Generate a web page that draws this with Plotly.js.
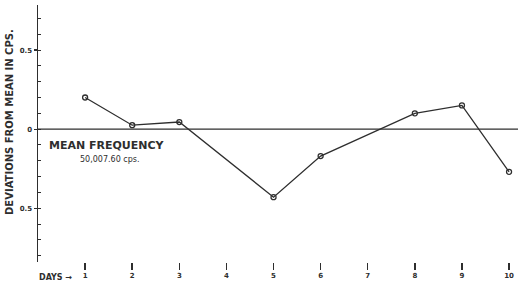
<!DOCTYPE html>
<html>
<head>
<meta charset="utf-8">
<script src="https://cdn.plot.ly/plotly-3.0.1.min.js"></script>
<style>html,body{margin:0;padding:0;background:#fff}#chart{width:518px;height:286px}</style>
</head>
<body>
<div id="chart"></div>
<script>
// Days with measurements (days 4 and 7 have no plotted point)
var days = [1, 2, 3, 5, 6, 8, 9, 10];
var deviations = [0.20, 0.025, 0.045, -0.43, -0.17, 0.10, 0.15, -0.27];
var dayTicks = [1, 2, 3, 4, 5, 6, 7, 8, 9, 10];
var dayLabels = ["1", "2", "3", "4", "5", "6", "7", "8", "9", "10"];
var yTickVals = [0.5, 0, -0.5];
var yTickText = ["0.5", "0", "0.5"];
var meanValue = 0;

var ink = "#2e2e2e";
var font = "DejaVu Sans";

var trace = {
  x: days, y: deviations, type: "scatter", mode: "lines+markers",
  line: {color: ink, width: 1.3},
  marker: {symbol: "circle-open", size: 5, color: ink, line: {width: 1.3, color: ink}},
  hoverinfo: "skip", showlegend: false
};

var layout = {
  width: 518, height: 286,
  margin: {l: 38, r: 0, t: 5, b: 24},
  paper_bgcolor: "#fff", plot_bgcolor: "#fff",
  xaxis: {
    range: [0, 10.19], showgrid: false, zeroline: false, showline: false,
    tickmode: "array", tickvals: dayTicks, ticktext: dayLabels,
    ticks: "outside", ticklen: 7, tickwidth: 1.5, tickcolor: ink,
    tickfont: {family: font, size: 7, color: ink, weight: "bold"}
  },
  yaxis: {
    range: [-0.84, 0.785], showgrid: false, zeroline: false,
    showline: true, linecolor: ink, linewidth: 1.5,
    tickmode: "array", tickvals: yTickVals, ticktext: yTickText,
    ticks: "outside", ticklen: 3, tickwidth: 1.2, tickcolor: ink,
    tickfont: {family: font, size: 7, color: ink, weight: "bold"},
    minor: {dtick: 0.1, tick0: 0, ticks: "inside", ticklen: 3, tickwidth: 1, tickcolor: ink}
  },
  shapes: [{
    type: "line", xref: "paper", x0: 0, x1: 1, yref: "y", y0: meanValue, y1: meanValue,
    line: {color: ink, width: 1.2}
  }],
  annotations: [
    {text: "DEVIATIONS FROM MEAN IN CPS.", textangle: -90, xref: "paper", yref: "paper",
     x: 0, y: 0.545, xanchor: "center", yanchor: "middle", showarrow: false,
     font: {family: font, size: 10, color: ink, weight: "bold"}, xshift: -28},
    {text: "MEAN FREQUENCY", xref: "x", yref: "y", x: 0.2, y: -0.105,
     xanchor: "left", yanchor: "middle", showarrow: false,
     font: {family: font, size: 11, color: ink, weight: "bold"}},
    {text: "50,007.60 cps.", xref: "x", yref: "y", x: 0.85, y: -0.195,
     xanchor: "left", yanchor: "middle", showarrow: false,
     font: {family: font, size: 8, color: ink}},
    {text: "DAYS →", xref: "paper", yref: "paper", x: 0, y: 0,
     xanchor: "right", yanchor: "top", yshift: -9, xshift: 36, showarrow: false,
     font: {family: font, size: 8, color: ink, weight: "bold"}}
  ]
};

Plotly.newPlot("chart", [trace], layout, {displayModeBar: false, staticPlot: true});
</script>
</body>
</html>
